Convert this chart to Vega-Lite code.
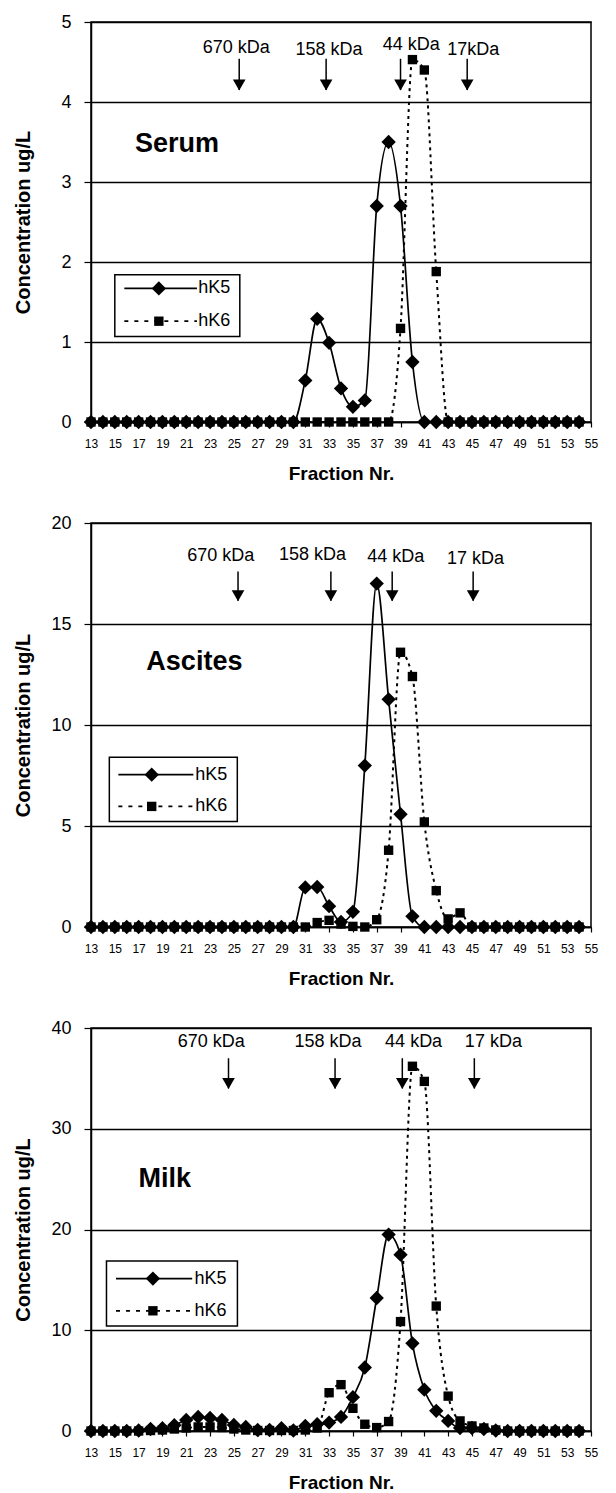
{
"$schema": "https://vega.github.io/schema/vega-lite/v6.json",
"background": "white",
"padding": {"left": 12, "top": 12, "right": 10, "bottom": 5},
"spacing": 101,
"bounds": "flush",
"resolve": {"scale": {"x": "independent", "y": "independent", "strokeDash": "independent"}},
"datasets": {
"curves": [
{"p":"Serum","x":13,"hK5":0,"hK6":0},{"p":"Serum","x":14,"hK5":0,"hK6":0},{"p":"Serum","x":15,"hK5":0,"hK6":0},{"p":"Serum","x":16,"hK5":0,"hK6":0},{"p":"Serum","x":17,"hK5":0,"hK6":0},{"p":"Serum","x":18,"hK5":0,"hK6":0},{"p":"Serum","x":19,"hK5":0,"hK6":0},{"p":"Serum","x":20,"hK5":0,"hK6":0},{"p":"Serum","x":21,"hK5":0,"hK6":0},{"p":"Serum","x":22,"hK5":0,"hK6":0},{"p":"Serum","x":23,"hK5":0,"hK6":0},{"p":"Serum","x":24,"hK5":0,"hK6":0},{"p":"Serum","x":25,"hK5":0,"hK6":0},{"p":"Serum","x":26,"hK5":0,"hK6":0},{"p":"Serum","x":27,"hK5":0,"hK6":0},{"p":"Serum","x":28,"hK5":0,"hK6":0},{"p":"Serum","x":29,"hK5":0,"hK6":0},{"p":"Serum","x":30,"hK5":0,"hK6":0},
{"p":"Serum","x":31,"hK5":0.52,"hK6":0},{"p":"Serum","x":32,"hK5":1.29,"hK6":0},{"p":"Serum","x":33,"hK5":0.99,"hK6":0},{"p":"Serum","x":34,"hK5":0.42,"hK6":0},{"p":"Serum","x":35,"hK5":0.19,"hK6":0},{"p":"Serum","x":36,"hK5":0.27,"hK6":0},{"p":"Serum","x":37,"hK5":2.7,"hK6":0},{"p":"Serum","x":38,"hK5":3.5,"hK6":0},{"p":"Serum","x":39,"hK5":2.7,"hK6":1.17},{"p":"Serum","x":40,"hK5":0.75,"hK6":4.53},{"p":"Serum","x":41,"hK5":0,"hK6":4.4},{"p":"Serum","x":42,"hK5":0,"hK6":1.88},
{"p":"Serum","x":43,"hK5":0,"hK6":0},{"p":"Serum","x":44,"hK5":0,"hK6":0},{"p":"Serum","x":45,"hK5":0,"hK6":0},{"p":"Serum","x":46,"hK5":0,"hK6":0},{"p":"Serum","x":47,"hK5":0,"hK6":0},{"p":"Serum","x":48,"hK5":0,"hK6":0},{"p":"Serum","x":49,"hK5":0,"hK6":0},{"p":"Serum","x":50,"hK5":0,"hK6":0},{"p":"Serum","x":51,"hK5":0,"hK6":0},{"p":"Serum","x":52,"hK5":0,"hK6":0},{"p":"Serum","x":53,"hK5":0,"hK6":0},{"p":"Serum","x":54,"hK5":0,"hK6":0},
{"p":"Ascites","x":13,"hK5":0,"hK6":0},{"p":"Ascites","x":14,"hK5":0,"hK6":0},{"p":"Ascites","x":15,"hK5":0,"hK6":0},{"p":"Ascites","x":16,"hK5":0,"hK6":0},{"p":"Ascites","x":17,"hK5":0,"hK6":0},{"p":"Ascites","x":18,"hK5":0,"hK6":0},{"p":"Ascites","x":19,"hK5":0,"hK6":0},{"p":"Ascites","x":20,"hK5":0,"hK6":0},{"p":"Ascites","x":21,"hK5":0,"hK6":0},{"p":"Ascites","x":22,"hK5":0,"hK6":0},{"p":"Ascites","x":23,"hK5":0,"hK6":0},{"p":"Ascites","x":24,"hK5":0,"hK6":0},{"p":"Ascites","x":25,"hK5":0,"hK6":0},{"p":"Ascites","x":26,"hK5":0,"hK6":0},{"p":"Ascites","x":27,"hK5":0,"hK6":0},{"p":"Ascites","x":28,"hK5":0,"hK6":0},{"p":"Ascites","x":29,"hK5":0,"hK6":0},{"p":"Ascites","x":30,"hK5":0,"hK6":0},
{"p":"Ascites","x":31,"hK5":1.96,"hK6":0},{"p":"Ascites","x":32,"hK5":1.98,"hK6":0.22},{"p":"Ascites","x":33,"hK5":1.03,"hK6":0.33},{"p":"Ascites","x":34,"hK5":0.25,"hK6":0.15},{"p":"Ascites","x":35,"hK5":0.75,"hK6":0.03},{"p":"Ascites","x":36,"hK5":7.99,"hK6":0},{"p":"Ascites","x":37,"hK5":17.0,"hK6":0.36},{"p":"Ascites","x":38,"hK5":11.27,"hK6":3.8},{"p":"Ascites","x":39,"hK5":5.58,"hK6":13.6},{"p":"Ascites","x":40,"hK5":0.53,"hK6":12.4},{"p":"Ascites","x":41,"hK5":0,"hK6":5.2},{"p":"Ascites","x":42,"hK5":0,"hK6":1.8},{"p":"Ascites","x":43,"hK5":0,"hK6":0.4},{"p":"Ascites","x":44,"hK5":0,"hK6":0.7},
{"p":"Ascites","x":45,"hK5":0,"hK6":0},{"p":"Ascites","x":46,"hK5":0,"hK6":0},{"p":"Ascites","x":47,"hK5":0,"hK6":0},{"p":"Ascites","x":48,"hK5":0,"hK6":0},{"p":"Ascites","x":49,"hK5":0,"hK6":0},{"p":"Ascites","x":50,"hK5":0,"hK6":0},{"p":"Ascites","x":51,"hK5":0,"hK6":0},{"p":"Ascites","x":52,"hK5":0,"hK6":0},{"p":"Ascites","x":53,"hK5":0,"hK6":0},{"p":"Ascites","x":54,"hK5":0,"hK6":0},
{"p":"Milk","x":13,"hK5":0,"hK6":0},{"p":"Milk","x":14,"hK5":0,"hK6":0},{"p":"Milk","x":15,"hK5":0,"hK6":0},{"p":"Milk","x":16,"hK5":0,"hK6":0},{"p":"Milk","x":17,"hK5":0.05,"hK6":0},{"p":"Milk","x":18,"hK5":0.2,"hK6":0.05},{"p":"Milk","x":19,"hK5":0.27,"hK6":0.1},{"p":"Milk","x":20,"hK5":0.57,"hK6":0.2},{"p":"Milk","x":21,"hK5":1.1,"hK6":0.3},{"p":"Milk","x":22,"hK5":1.4,"hK6":0.4},{"p":"Milk","x":23,"hK5":1.3,"hK6":0.4},{"p":"Milk","x":24,"hK5":1.1,"hK6":0.35},{"p":"Milk","x":25,"hK5":0.6,"hK6":0.2},{"p":"Milk","x":26,"hK5":0.4,"hK6":0.1},{"p":"Milk","x":27,"hK5":0.1,"hK6":0.05},{"p":"Milk","x":28,"hK5":0.1,"hK6":0.05},{"p":"Milk","x":29,"hK5":0.27,"hK6":0.05},{"p":"Milk","x":30,"hK5":0.05,"hK6":0.05},
{"p":"Milk","x":31,"hK5":0.5,"hK6":0.1},{"p":"Milk","x":32,"hK5":0.67,"hK6":0.3},{"p":"Milk","x":33,"hK5":0.84,"hK6":3.8},{"p":"Milk","x":34,"hK5":1.4,"hK6":4.6},{"p":"Milk","x":35,"hK5":3.36,"hK6":2.25},{"p":"Milk","x":36,"hK5":6.3,"hK6":0.67},{"p":"Milk","x":37,"hK5":13.2,"hK6":0.34},{"p":"Milk","x":38,"hK5":19.5,"hK6":0.94},{"p":"Milk","x":39,"hK5":17.5,"hK6":10.86},{"p":"Milk","x":40,"hK5":8.7,"hK6":36.2},{"p":"Milk","x":41,"hK5":4.1,"hK6":34.7},{"p":"Milk","x":42,"hK5":2.0,"hK6":12.4},{"p":"Milk","x":43,"hK5":1.0,"hK6":3.46},{"p":"Milk","x":44,"hK5":0.3,"hK6":1.0},{"p":"Milk","x":45,"hK5":0.3,"hK6":0.5},{"p":"Milk","x":46,"hK5":0.2,"hK6":0.3},{"p":"Milk","x":47,"hK5":0.05,"hK6":0.1},
{"p":"Milk","x":48,"hK5":0,"hK6":0},{"p":"Milk","x":49,"hK5":0,"hK6":0},{"p":"Milk","x":50,"hK5":0,"hK6":0},{"p":"Milk","x":51,"hK5":0,"hK6":0},{"p":"Milk","x":52,"hK5":0,"hK6":0},{"p":"Milk","x":53,"hK5":0,"hK6":0},{"p":"Milk","x":54,"hK5":0,"hK6":0}
],
"texts": [
{"p":"Serum","kind":"kda","x":25.2,"y":4.675,"t":"670 kDa"},{"p":"Serum","kind":"kda","x":33.0,"y":4.65,"t":"158 kDa"},{"p":"Serum","kind":"kda","x":39.9,"y":4.71,"t":"44 kDa"},{"p":"Serum","kind":"kda","x":45.1,"y":4.65,"t":"17kDa"},
{"p":"Ascites","kind":"kda","x":23.9,"y":18.39,"t":"670 kDa"},{"p":"Ascites","kind":"kda","x":31.6,"y":18.43,"t":"158 kDa"},{"p":"Ascites","kind":"kda","x":38.6,"y":18.3,"t":"44 kDa"},{"p":"Ascites","kind":"kda","x":45.3,"y":18.2,"t":"17 kDa"},
{"p":"Milk","kind":"kda","x":23.1,"y":38.65,"t":"670 kDa"},{"p":"Milk","kind":"kda","x":32.9,"y":38.65,"t":"158 kDa"},{"p":"Milk","kind":"kda","x":40.1,"y":38.65,"t":"44 kDa"},{"p":"Milk","kind":"kda","x":46.8,"y":38.65,"t":"17 kDa"},
{"p":"Serum","kind":"name","x":16.7,"y":3.47,"t":"Serum"},{"p":"Ascites","kind":"name","x":17.65,"y":13.1,"t":"Ascites"},{"p":"Milk","kind":"name","x":17.0,"y":25.0,"t":"Milk"},
{"p":"Serum","kind":"leg","x":22.0,"y":1.67,"t":"hK5"},{"p":"Serum","kind":"leg","x":22.0,"y":1.26,"t":"hK6"},
{"p":"Ascites","kind":"leg","x":21.75,"y":7.54,"t":"hK5"},{"p":"Ascites","kind":"leg","x":21.75,"y":5.97,"t":"hK6"},
{"p":"Milk","kind":"leg","x":21.7,"y":15.13,"t":"hK5"},{"p":"Milk","kind":"leg","x":21.7,"y":11.93,"t":"hK6"}
],
"arrows": [
{"p":"Serum","x":25.45,"y":4.15,"y2":4.54},{"p":"Serum","x":32.75,"y":4.15,"y2":4.54},{"p":"Serum","x":39.0,"y":4.15,"y2":4.54},{"p":"Serum","x":44.6,"y":4.15,"y2":4.54},
{"p":"Ascites","x":25.35,"y":16.15,"y2":17.6},{"p":"Ascites","x":33.15,"y":16.15,"y2":17.6},{"p":"Ascites","x":38.3,"y":16.15,"y2":17.6},{"p":"Ascites","x":45.1,"y":16.15,"y2":17.6},
{"p":"Milk","x":24.55,"y":34.0,"y2":37.0},{"p":"Milk","x":33.5,"y":34.0,"y2":37.0},{"p":"Milk","x":39.15,"y":34.0,"y2":37.0},{"p":"Milk","x":45.2,"y":34.0,"y2":37.0}
],
"boxes": [
{"p":"Serum","x":15.0,"x2":25.5,"y":1.07,"y2":1.84},
{"p":"Ascites","x":14.54,"x2":25.29,"y":5.22,"y2":8.4},
{"p":"Milk","x":14.3,"x2":25.3,"y":10.42,"y2":16.87}
],
"leglines": [
{"p":"Serum","s":"hK5","x":15.8,"x2":21.9,"y":1.67},{"p":"Serum","s":"hK6","x":15.8,"x2":21.9,"y":1.26},
{"p":"Ascites","s":"hK5","x":15.3,"x2":21.6,"y":7.54},{"p":"Ascites","s":"hK6","x":15.3,"x2":21.6,"y":5.97},
{"p":"Milk","s":"hK5","x":15.1,"x2":21.5,"y":15.13},{"p":"Milk","s":"hK6","x":15.1,"x2":21.5,"y":11.93}
],
"legmarks": [
{"p":"Serum","s":"hK5","x":18.7,"y":1.67},{"p":"Serum","s":"hK6","x":18.7,"y":1.26},
{"p":"Ascites","s":"hK5","x":18.1,"y":7.54},{"p":"Ascites","s":"hK6","x":18.1,"y":5.97},
{"p":"Milk","s":"hK5","x":18.2,"y":15.13},{"p":"Milk","s":"hK6","x":18.2,"y":11.93}
]
},
"vconcat": [
{
"width": 500, "height": 400,
"encoding": {
 "x": {"field": "x", "type": "quantitative", "scale": {"domain": [13, 55], "nice": false, "zero": false}, "axis": {"title": "Fraction Nr.", "values": [13,15,17,19,21,23,25,27,29,31,33,35,37,39,41,43,45,47,49,51,53,55]}},
 "y": {"field": "y", "type": "quantitative", "scale": {"domain": [0, 5], "nice": false}, "axis": {"title": "Concentration ug/L"}}
},
"layer": [
 {"data": {"name": "curves"}, "transform": [{"filter": "datum.p == 'Serum'"}, {"fold": ["hK6"], "as": ["s", "y"]}], "mark": {"type": "line", "interpolate": "monotone", "color": "black", "strokeWidth": 2, "strokeDash": [3, 4]}},
 {"data": {"name": "curves"}, "transform": [{"filter": "datum.p == 'Serum'"}, {"fold": ["hK6"], "as": ["s", "y"]}], "mark": {"type": "point", "shape": "square", "filled": true, "color": "black", "opacity": 1, "size": 88}},
 {"data": {"name": "curves"}, "transform": [{"filter": "datum.p == 'Serum'"}, {"fold": ["hK5"], "as": ["s", "y"]}], "mark": {"type": "line", "interpolate": "monotone", "color": "black", "strokeWidth": 1.7}},
 {"data": {"name": "curves"}, "transform": [{"filter": "datum.p == 'Serum'"}, {"fold": ["hK5"], "as": ["s", "y"]}], "mark": {"type": "point", "shape": "diamond", "filled": true, "color": "black", "opacity": 1, "size": 205}},
 {"data": {"name": "arrows"}, "transform": [{"filter": "datum.p == 'Serum'"}], "mark": {"type": "rule", "color": "black", "strokeWidth": 1.5}, "encoding": {"y2": {"field": "y2"}}},
 {"data": {"name": "arrows"}, "transform": [{"filter": "datum.p == 'Serum'"}], "mark": {"type": "point", "shape": "triangle-down", "filled": true, "color": "black", "opacity": 1, "size": 160, "yOffset": -5}},
 {"data": {"name": "texts"}, "transform": [{"filter": "datum.p == 'Serum' && datum.kind == 'kda'"}], "mark": {"type": "text", "fontSize": 18, "align": "center", "baseline": "middle", "color": "black"}, "encoding": {"text": {"field": "t"}}},
 {"data": {"name": "texts"}, "transform": [{"filter": "datum.p == 'Serum' && datum.kind == 'name'"}], "mark": {"type": "text", "fontSize": 27, "fontWeight": "bold", "align": "left", "baseline": "middle", "color": "black"}, "encoding": {"text": {"field": "t"}}},
 {"data": {"name": "boxes"}, "transform": [{"filter": "datum.p == 'Serum'"}], "mark": {"type": "rect", "fill": "white", "stroke": "black", "strokeWidth": 1.5}, "encoding": {"x2": {"field": "x2"}, "y2": {"field": "y2"}}},
 {"data": {"name": "leglines"}, "transform": [{"filter": "datum.p == 'Serum'"}], "mark": {"type": "rule", "color": "black", "strokeWidth": 1.7}, "encoding": {"x2": {"field": "x2"}, "strokeDash": {"field": "s", "type": "nominal", "scale": {"domain": ["hK5", "hK6"], "range": [[1, 0], [4, 6]]}, "legend": null}}},
 {"data": {"name": "legmarks"}, "transform": [{"filter": "datum.p == 'Serum' && datum.s == 'hK5'"}], "mark": {"type": "point", "shape": "diamond", "filled": true, "color": "black", "opacity": 1, "size": 205}},
 {"data": {"name": "legmarks"}, "transform": [{"filter": "datum.p == 'Serum' && datum.s == 'hK6'"}], "mark": {"type": "point", "shape": "square", "filled": true, "color": "black", "opacity": 1, "size": 88}},
 {"data": {"name": "texts"}, "transform": [{"filter": "datum.p == 'Serum' && datum.kind == 'leg'"}], "mark": {"type": "text", "fontSize": 18, "align": "left", "baseline": "middle", "color": "black"}, "encoding": {"text": {"field": "t"}}}
]
},
{
"width": 500, "height": 404,
"encoding": {
 "x": {"field": "x", "type": "quantitative", "scale": {"domain": [13, 55], "nice": false, "zero": false}, "axis": {"title": "Fraction Nr.", "values": [13,15,17,19,21,23,25,27,29,31,33,35,37,39,41,43,45,47,49,51,53,55]}},
 "y": {"field": "y", "type": "quantitative", "scale": {"domain": [0, 20], "nice": false}, "axis": {"title": "Concentration ug/L"}}
},
"layer": [
 {"data": {"name": "curves"}, "transform": [{"filter": "datum.p == 'Ascites'"}, {"fold": ["hK6"], "as": ["s", "y"]}], "mark": {"type": "line", "interpolate": "monotone", "color": "black", "strokeWidth": 2, "strokeDash": [3, 4]}},
 {"data": {"name": "curves"}, "transform": [{"filter": "datum.p == 'Ascites'"}, {"fold": ["hK6"], "as": ["s", "y"]}], "mark": {"type": "point", "shape": "square", "filled": true, "color": "black", "opacity": 1, "size": 88}},
 {"data": {"name": "curves"}, "transform": [{"filter": "datum.p == 'Ascites'"}, {"fold": ["hK5"], "as": ["s", "y"]}], "mark": {"type": "line", "interpolate": "monotone", "color": "black", "strokeWidth": 1.7}},
 {"data": {"name": "curves"}, "transform": [{"filter": "datum.p == 'Ascites'"}, {"fold": ["hK5"], "as": ["s", "y"]}], "mark": {"type": "point", "shape": "diamond", "filled": true, "color": "black", "opacity": 1, "size": 205}},
 {"data": {"name": "arrows"}, "transform": [{"filter": "datum.p == 'Ascites'"}], "mark": {"type": "rule", "color": "black", "strokeWidth": 1.5}, "encoding": {"y2": {"field": "y2"}}},
 {"data": {"name": "arrows"}, "transform": [{"filter": "datum.p == 'Ascites'"}], "mark": {"type": "point", "shape": "triangle-down", "filled": true, "color": "black", "opacity": 1, "size": 160, "yOffset": -5}},
 {"data": {"name": "texts"}, "transform": [{"filter": "datum.p == 'Ascites' && datum.kind == 'kda'"}], "mark": {"type": "text", "fontSize": 18, "align": "center", "baseline": "middle", "color": "black"}, "encoding": {"text": {"field": "t"}}},
 {"data": {"name": "texts"}, "transform": [{"filter": "datum.p == 'Ascites' && datum.kind == 'name'"}], "mark": {"type": "text", "fontSize": 27, "fontWeight": "bold", "align": "left", "baseline": "middle", "color": "black"}, "encoding": {"text": {"field": "t"}}},
 {"data": {"name": "boxes"}, "transform": [{"filter": "datum.p == 'Ascites'"}], "mark": {"type": "rect", "fill": "white", "stroke": "black", "strokeWidth": 1.5}, "encoding": {"x2": {"field": "x2"}, "y2": {"field": "y2"}}},
 {"data": {"name": "leglines"}, "transform": [{"filter": "datum.p == 'Ascites'"}], "mark": {"type": "rule", "color": "black", "strokeWidth": 1.7}, "encoding": {"x2": {"field": "x2"}, "strokeDash": {"field": "s", "type": "nominal", "scale": {"domain": ["hK5", "hK6"], "range": [[1, 0], [4, 6]]}, "legend": null}}},
 {"data": {"name": "legmarks"}, "transform": [{"filter": "datum.p == 'Ascites' && datum.s == 'hK5'"}], "mark": {"type": "point", "shape": "diamond", "filled": true, "color": "black", "opacity": 1, "size": 205}},
 {"data": {"name": "legmarks"}, "transform": [{"filter": "datum.p == 'Ascites' && datum.s == 'hK6'"}], "mark": {"type": "point", "shape": "square", "filled": true, "color": "black", "opacity": 1, "size": 88}},
 {"data": {"name": "texts"}, "transform": [{"filter": "datum.p == 'Ascites' && datum.kind == 'leg'"}], "mark": {"type": "text", "fontSize": 18, "align": "left", "baseline": "middle", "color": "black"}, "encoding": {"text": {"field": "t"}}}
]
},
{
"width": 500, "height": 403,
"encoding": {
 "x": {"field": "x", "type": "quantitative", "scale": {"domain": [13, 55], "nice": false, "zero": false}, "axis": {"title": "Fraction Nr.", "values": [13,15,17,19,21,23,25,27,29,31,33,35,37,39,41,43,45,47,49,51,53,55]}},
 "y": {"field": "y", "type": "quantitative", "scale": {"domain": [0, 40], "nice": false}, "axis": {"title": "Concentration ug/L"}}
},
"layer": [
 {"data": {"name": "curves"}, "transform": [{"filter": "datum.p == 'Milk'"}, {"fold": ["hK6"], "as": ["s", "y"]}], "mark": {"type": "line", "interpolate": "monotone", "color": "black", "strokeWidth": 2, "strokeDash": [3, 4]}},
 {"data": {"name": "curves"}, "transform": [{"filter": "datum.p == 'Milk'"}, {"fold": ["hK6"], "as": ["s", "y"]}], "mark": {"type": "point", "shape": "square", "filled": true, "color": "black", "opacity": 1, "size": 88}},
 {"data": {"name": "curves"}, "transform": [{"filter": "datum.p == 'Milk'"}, {"fold": ["hK5"], "as": ["s", "y"]}], "mark": {"type": "line", "interpolate": "monotone", "color": "black", "strokeWidth": 1.7}},
 {"data": {"name": "curves"}, "transform": [{"filter": "datum.p == 'Milk'"}, {"fold": ["hK5"], "as": ["s", "y"]}], "mark": {"type": "point", "shape": "diamond", "filled": true, "color": "black", "opacity": 1, "size": 205}},
 {"data": {"name": "arrows"}, "transform": [{"filter": "datum.p == 'Milk'"}], "mark": {"type": "rule", "color": "black", "strokeWidth": 1.5}, "encoding": {"y2": {"field": "y2"}}},
 {"data": {"name": "arrows"}, "transform": [{"filter": "datum.p == 'Milk'"}], "mark": {"type": "point", "shape": "triangle-down", "filled": true, "color": "black", "opacity": 1, "size": 160, "yOffset": -5}},
 {"data": {"name": "texts"}, "transform": [{"filter": "datum.p == 'Milk' && datum.kind == 'kda'"}], "mark": {"type": "text", "fontSize": 18, "align": "center", "baseline": "middle", "color": "black"}, "encoding": {"text": {"field": "t"}}},
 {"data": {"name": "texts"}, "transform": [{"filter": "datum.p == 'Milk' && datum.kind == 'name'"}], "mark": {"type": "text", "fontSize": 27, "fontWeight": "bold", "align": "left", "baseline": "middle", "color": "black"}, "encoding": {"text": {"field": "t"}}},
 {"data": {"name": "boxes"}, "transform": [{"filter": "datum.p == 'Milk'"}], "mark": {"type": "rect", "fill": "white", "stroke": "black", "strokeWidth": 1.5}, "encoding": {"x2": {"field": "x2"}, "y2": {"field": "y2"}}},
 {"data": {"name": "leglines"}, "transform": [{"filter": "datum.p == 'Milk'"}], "mark": {"type": "rule", "color": "black", "strokeWidth": 1.7}, "encoding": {"x2": {"field": "x2"}, "strokeDash": {"field": "s", "type": "nominal", "scale": {"domain": ["hK5", "hK6"], "range": [[1, 0], [4, 6]]}, "legend": null}}},
 {"data": {"name": "legmarks"}, "transform": [{"filter": "datum.p == 'Milk' && datum.s == 'hK5'"}], "mark": {"type": "point", "shape": "diamond", "filled": true, "color": "black", "opacity": 1, "size": 205}},
 {"data": {"name": "legmarks"}, "transform": [{"filter": "datum.p == 'Milk' && datum.s == 'hK6'"}], "mark": {"type": "point", "shape": "square", "filled": true, "color": "black", "opacity": 1, "size": 88}},
 {"data": {"name": "texts"}, "transform": [{"filter": "datum.p == 'Milk' && datum.kind == 'leg'"}], "mark": {"type": "text", "fontSize": 18, "align": "left", "baseline": "middle", "color": "black"}, "encoding": {"text": {"field": "t"}}}
]
}
],
"config": {
 "font": "Liberation Sans",
 "view": {"stroke": "black", "strokeWidth": 1.5},
 "axis": {"domainColor": "black", "domainWidth": 1.5, "tickColor": "black", "tickWidth": 1.2, "labelColor": "black", "titleColor": "black", "gridColor": "black", "labelFont": "Liberation Sans", "titleFont": "Liberation Sans"},
 "axisX": {"grid": false, "labelFontSize": 12, "tickSize": 5, "labelPadding": 11, "titleFontSize": 19, "titleFontWeight": "bold", "titlePadding": 15, "labelOverlap": false, "labelFlush": false},
 "axisY": {"grid": true, "gridWidth": 1.5, "tickCount": 5, "labelFontSize": 18, "tickSize": 7, "labelPadding": 13, "titleFontSize": 20, "titleFontWeight": "bold", "titlePadding": 18, "minExtent": 40, "maxExtent": 40}
}
}
